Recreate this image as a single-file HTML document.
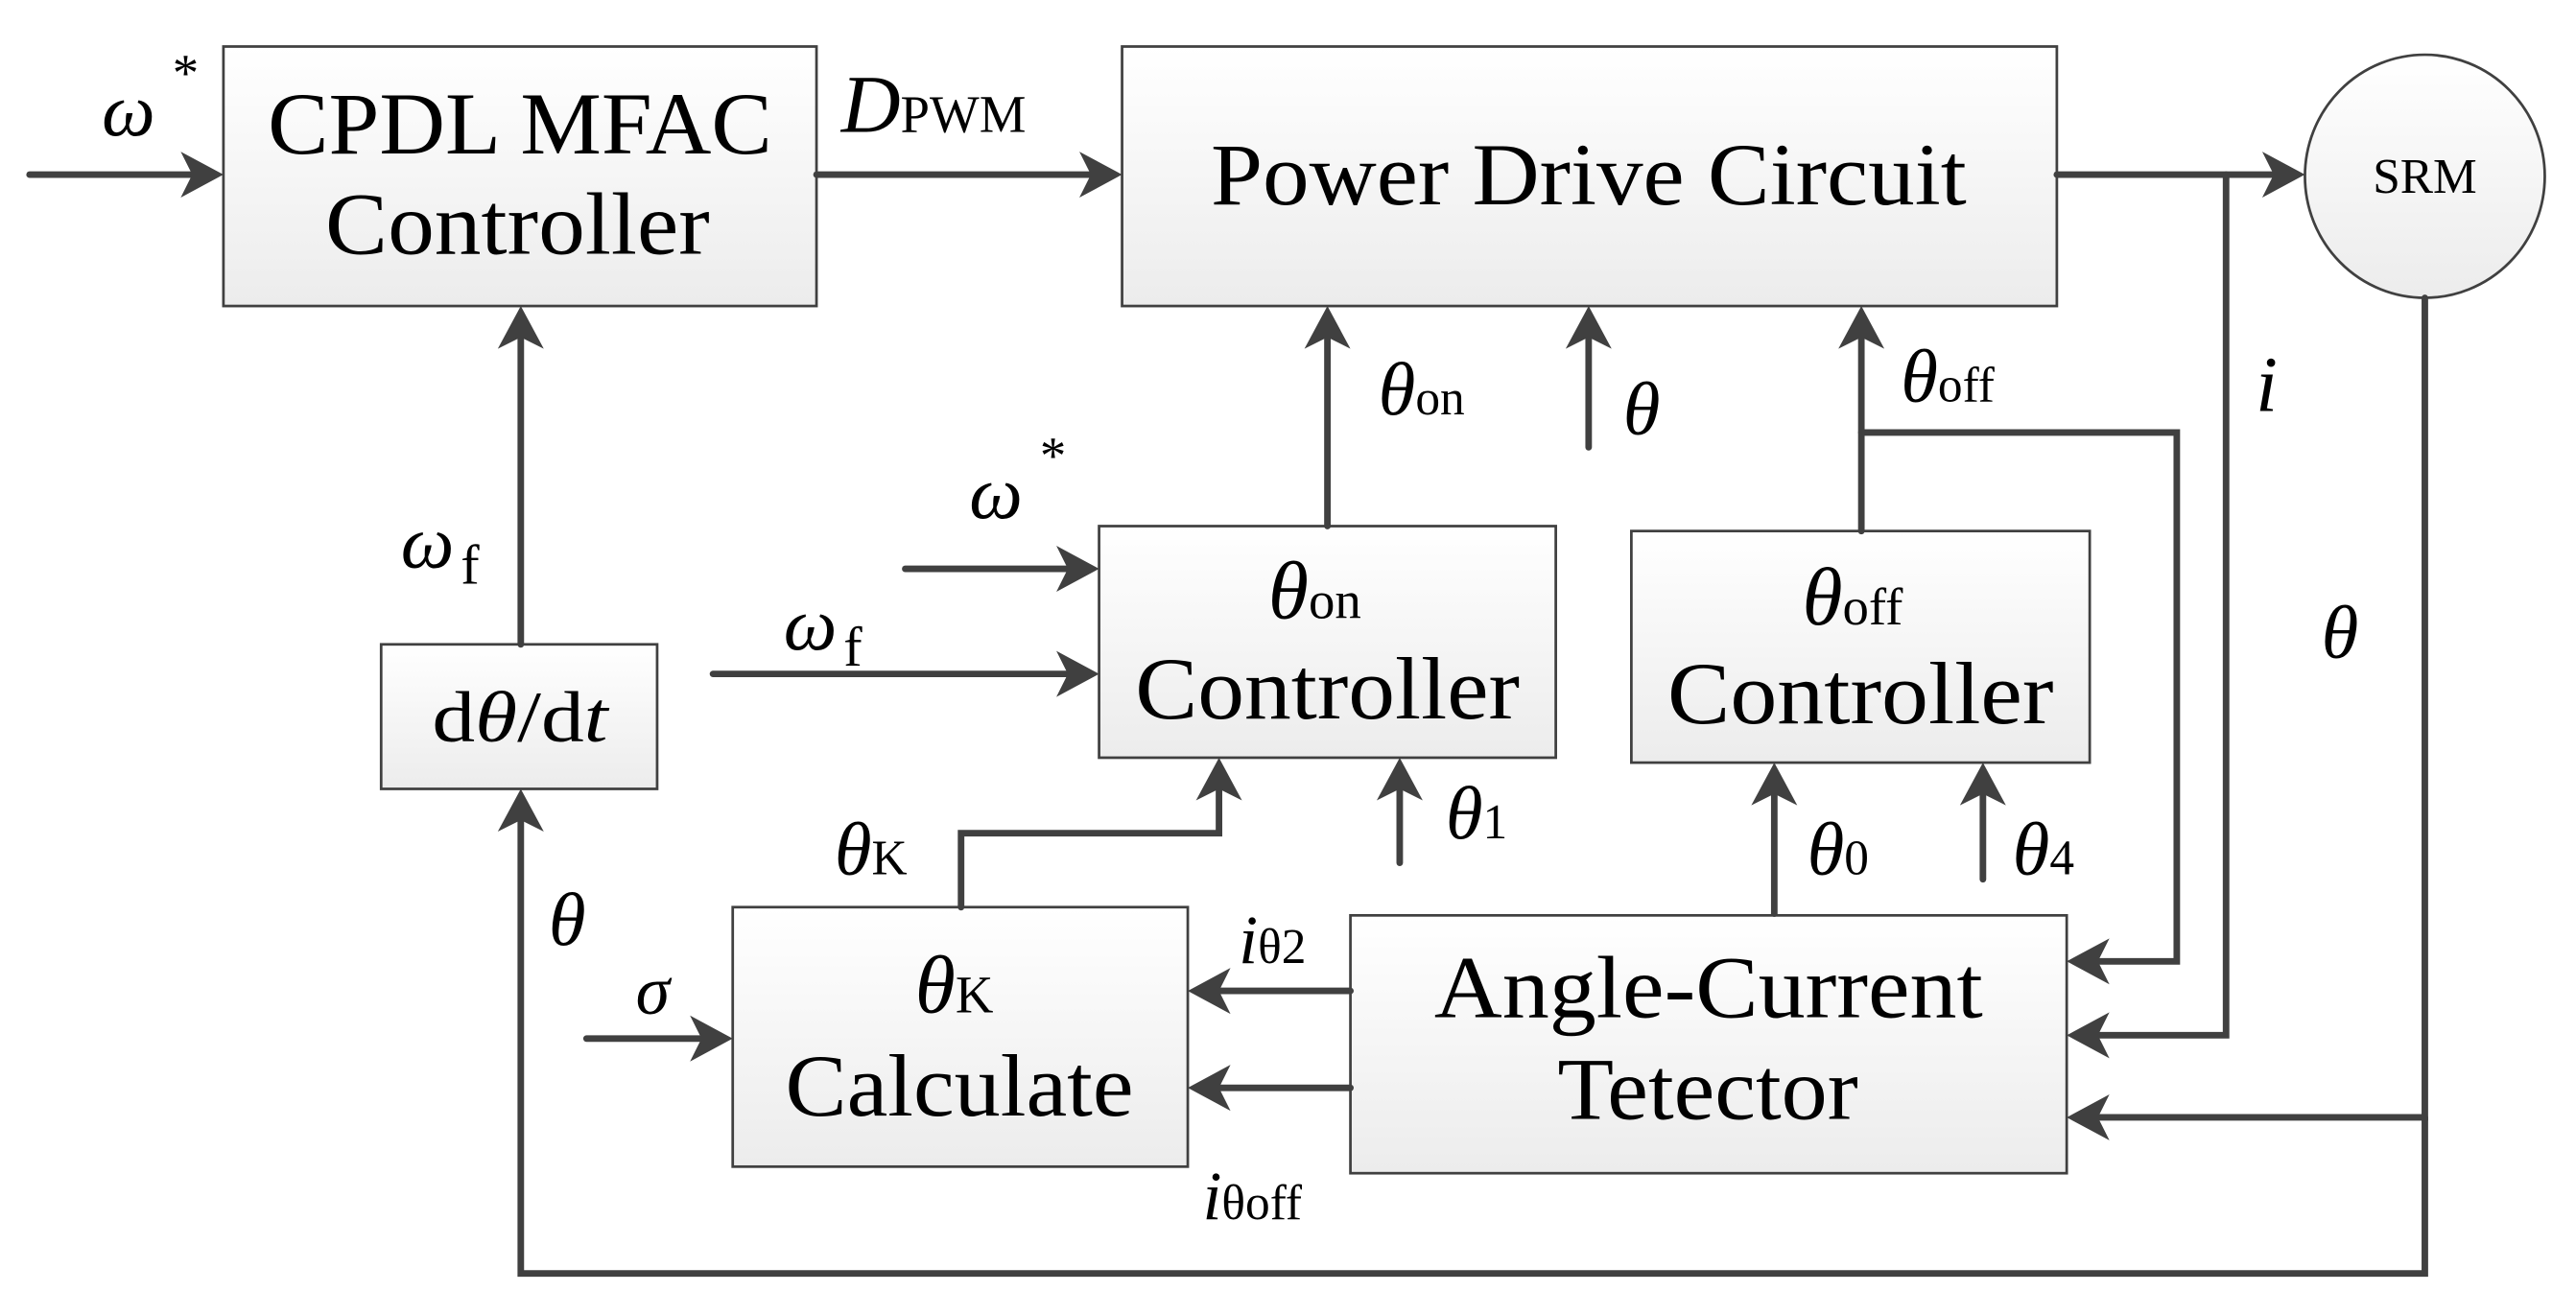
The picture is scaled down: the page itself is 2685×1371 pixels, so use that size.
<!DOCTYPE html>
<html><head><meta charset="utf-8"><style>
html,body{margin:0;padding:0;background:#fff;}
svg{display:block;}
svg text{font-family:"Liberation Serif","DejaVu Serif",serif;fill:#000;}
.i{font-style:italic;}
</style></head><body>
<svg width="2685" height="1371" viewBox="0 0 1568 800" xmlns="http://www.w3.org/2000/svg" font-family="Liberation Serif, DejaVu Serif, serif">
<defs>
<linearGradient id="g" x1="0" y1="0" x2="0" y2="1"><stop offset="0" stop-color="#ffffff"/><stop offset="1" stop-color="#ececec"/></linearGradient>
<marker id="a" markerUnits="userSpaceOnUse" markerWidth="40" markerHeight="40" viewBox="-30 -20 40 40" refX="-6" refY="0" orient="auto">
<path d="M0,0 L-26,-14 L-19,0 L-26,14 Z" fill="#404040"/>
</marker>
</defs>
<g fill="url(#g)" stroke="#404040" stroke-width="1.6">
<rect x="136" y="28" width="361" height="158"/>
<rect x="683" y="28" width="569" height="158"/>
<ellipse cx="1476" cy="107" rx="73" ry="74"/>
<rect x="669" y="320" width="278" height="141"/>
<rect x="993" y="323" width="279" height="141"/>
<rect x="232" y="392" width="168" height="88"/>
<rect x="446" y="552" width="277" height="158"/>
<rect x="822" y="557" width="436" height="157"/>
</g>
<g stroke="#404040" stroke-width="4" fill="none" stroke-linecap="round">
<line x1="18" y1="106" x2="130" y2="106" marker-end="url(#a)"/>
<line x1="497" y1="106" x2="677" y2="106" marker-end="url(#a)"/>
<line x1="1252" y1="106" x2="1397" y2="106" marker-end="url(#a)"/>
<path d="M1355,106 L1355,630 L1264,630" marker-end="url(#a)"/>
<path d="M1133,263 L1325,263 L1325,585 L1264,585" marker-end="url(#a)"/>
<line x1="1133" y1="323" x2="1133" y2="192" marker-end="url(#a)"/>
<path d="M1476,181 L1476,680 L1264,680" marker-end="url(#a)"/>
<path d="M1476,680 L1476,775 L317,775 L317,486" marker-end="url(#a)"/>
<line x1="317" y1="392" x2="317" y2="192" marker-end="url(#a)"/>
<line x1="808" y1="320" x2="808" y2="192" marker-end="url(#a)"/>
<line x1="967" y1="272" x2="967" y2="192" marker-end="url(#a)"/>
<line x1="551" y1="346" x2="663" y2="346" marker-end="url(#a)"/>
<line x1="434" y1="410" x2="663" y2="410" marker-end="url(#a)"/>
<line x1="852" y1="525" x2="852" y2="467" marker-end="url(#a)"/>
<line x1="1080" y1="556" x2="1080" y2="470" marker-end="url(#a)"/>
<line x1="1207" y1="535" x2="1207" y2="470" marker-end="url(#a)"/>
<path d="M585,552 L585,507 L742,507 L742,467" marker-end="url(#a)"/>
<line x1="357" y1="632" x2="440" y2="632" marker-end="url(#a)"/>
<line x1="822" y1="603" x2="729" y2="603" marker-end="url(#a)"/>
<line x1="822" y1="662" x2="729" y2="662" marker-end="url(#a)"/>
</g>
<g font-size="54">
<text x="163" y="93" textLength="307" lengthAdjust="spacingAndGlyphs">CPDL MFAC</text>
<text x="198" y="154" textLength="234" lengthAdjust="spacingAndGlyphs">Controller</text>
<text x="737" y="124" textLength="460" lengthAdjust="spacingAndGlyphs">Power Drive Circuit</text>
<text x="691" y="437" textLength="234" lengthAdjust="spacingAndGlyphs">Controller</text>
<text x="1015" y="440" textLength="235" lengthAdjust="spacingAndGlyphs">Controller</text>
<text x="873" y="619" textLength="334" lengthAdjust="spacingAndGlyphs">Angle-Current</text>
<text x="948" y="681" textLength="183" lengthAdjust="spacingAndGlyphs">Tetector</text>
<text x="478" y="679" textLength="212" lengthAdjust="spacingAndGlyphs">Calculate</text>
</g>
<text x="1476" y="117" font-size="30" text-anchor="middle">SRM</text>
<text x="263" y="451" font-size="44" textLength="107" lengthAdjust="spacingAndGlyphs">d<tspan class="i">θ</tspan>/d<tspan class="i">t</tspan></text>
<text x="772" y="376" font-size="50"><tspan class="i">θ</tspan><tspan font-size="32">on</tspan></text>
<text x="1097" y="380" font-size="50"><tspan class="i">θ</tspan><tspan font-size="32">off</tspan></text>
<text x="557" y="616" font-size="50"><tspan class="i">θ</tspan><tspan font-size="32">K</tspan></text>
<text x="62" y="82" font-size="46" class="i">ω</text><text x="105" y="55" font-size="32">*</text>
<text x="512" y="80" font-size="50"><tspan class="i">D</tspan><tspan font-size="32">PWM</tspan></text>
<text x="839" y="252" font-size="46"><tspan class="i">θ</tspan><tspan font-size="30">on</tspan></text>
<text x="988" y="264" font-size="46" class="i">θ</text>
<text x="1157" y="244" font-size="46"><tspan class="i">θ</tspan><tspan font-size="30">off</tspan></text>
<text x="1373" y="250" font-size="48" class="i">i</text>
<text x="1413" y="400" font-size="46" class="i">θ</text>
<text x="590" y="315" font-size="46" class="i">ω</text><text x="633" y="288" font-size="32">*</text>
<text x="477" y="395" font-size="46"><tspan class="i">ω</tspan><tspan font-size="34" dx="4" dy="10">f</tspan></text>
<text x="244" y="345" font-size="46"><tspan class="i">ω</tspan><tspan font-size="34" dx="4" dy="10">f</tspan></text>
<text x="880" y="510" font-size="46"><tspan class="i">θ</tspan><tspan font-size="30">1</tspan></text>
<text x="1100" y="532" font-size="46"><tspan class="i">θ</tspan><tspan font-size="30">0</tspan></text>
<text x="1225" y="532" font-size="46"><tspan class="i">θ</tspan><tspan font-size="30">4</tspan></text>
<text x="508" y="532" font-size="46"><tspan class="i">θ</tspan><tspan font-size="30">K</tspan></text>
<text x="334" y="575" font-size="46" class="i">θ</text>
<text x="387" y="617" font-size="42" class="i">σ</text>
<text x="754" y="586" font-size="42"><tspan class="i">i</tspan><tspan font-size="30">θ2</tspan></text>
<text x="732" y="742" font-size="42"><tspan class="i">i</tspan><tspan font-size="30">θoff</tspan></text>
</svg>
</body></html>
